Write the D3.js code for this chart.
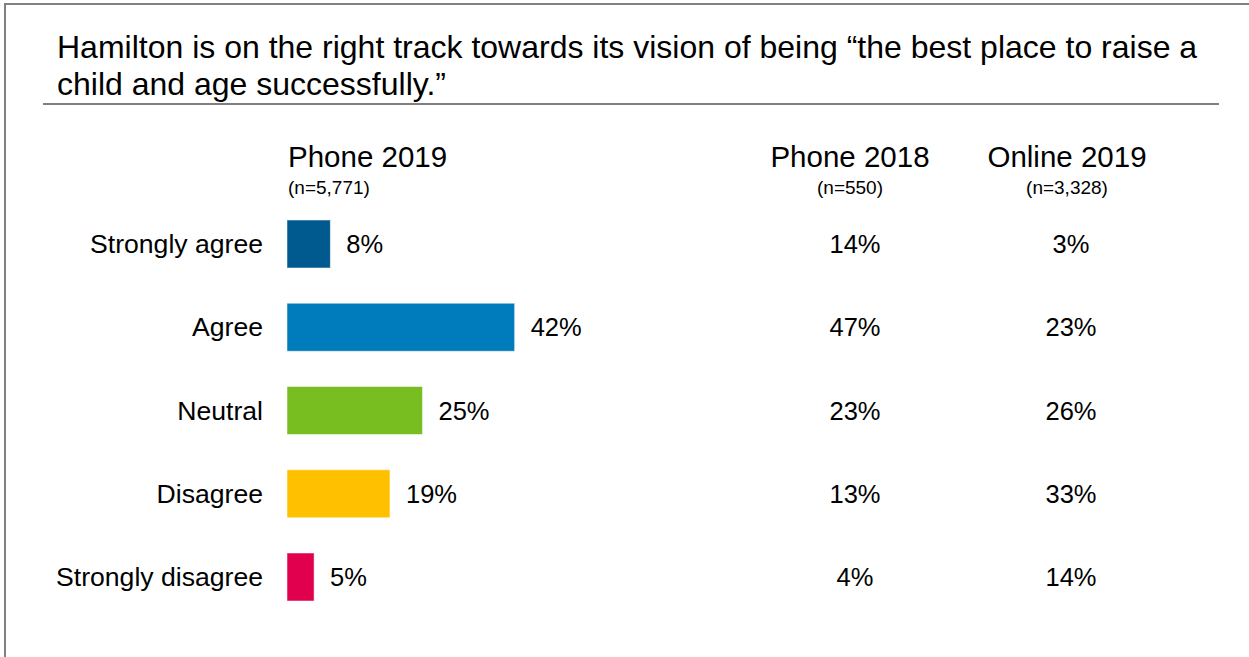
<!DOCTYPE html>
<html>
<head>
<meta charset="utf-8">
<script src="https://cdn.jsdelivr.net/npm/d3@7"></script>
<style>
  body { margin: 0; background: #fff; }
  text { font-family: "Liberation Sans", Arial, sans-serif; fill: #000; }
</style>
</head>
<body>
<script>
// data
var categories = ["Strongly agree", "Agree", "Neutral", "Disagree", "Strongly disagree"];
var phone2019 = [8, 42, 25, 19, 5];
var phone2018 = [14, 47, 23, 13, 4];
var online2019 = [3, 23, 26, 33, 14];
var columnTitles = ["Phone 2019", "Phone 2018", "Online 2019"];
var columnSizes = ["(n=5,771)", "(n=550)", "(n=3,328)"];
var titleLines = [
    "Hamilton is on the right track towards its vision of being \u201cthe best place to raise a",
    "child and age successfully.\u201d"
];

var colors = ["#00598f", "#007bbb", "#78be20", "#ffc000", "#e0004d"];

var width = 1249;
var height = 657;

var svg = d3.select("body").append("svg")
    .attr("width", width)
    .attr("height", height);

// frame (only top and left edges visible)
svg.append("line")
    .attr("x1", 4).attr("x2", width)
    .attr("y1", 4).attr("y2", 4)
    .style("stroke", "#808080")
    .style("stroke-width", 2);
svg.append("line")
    .attr("x1", 5).attr("x2", 5)
    .attr("y1", 3).attr("y2", height)
    .style("stroke", "#808080")
    .style("stroke-width", 2);

// title
svg.selectAll(".title").data(titleLines).enter()
    .append("text")
    .attr("class", "title")
    .attr("x", 57)
    .attr("y", function(d, i) { return 58 + i * 37; })
    .style("font-size", "32px")
    .text(function(d) { return d; });

svg.append("line")
    .attr("x1", 43).attr("x2", 1219)
    .attr("y1", 104).attr("y2", 104)
    .style("stroke", "#808080")
    .style("stroke-width", 2);

// scales
var xScale = d3.scaleLinear()
    .domain([0, 100])
    .range([287, 287 + 542]);

var yScale = d3.scalePoint()
    .domain(categories)
    .range([244, 577]);

var barHeight = 48;

// column headers
var headerX = [288, 850, 1067];
var headerAnchor = ["start", "middle", "middle"];

svg.selectAll(".colTitle").data(columnTitles).enter()
    .append("text")
    .attr("class", "colTitle")
    .attr("x", function(d, i) { return headerX[i]; })
    .attr("y", 167)
    .attr("text-anchor", function(d, i) { return headerAnchor[i]; })
    .style("font-size", "29.5px")
    .text(function(d) { return d; });

svg.selectAll(".colSize").data(columnSizes).enter()
    .append("text")
    .attr("class", "colSize")
    .attr("x", function(d, i) { return headerX[i]; })
    .attr("y", 194)
    .attr("text-anchor", function(d, i) { return headerAnchor[i]; })
    .style("font-size", "19px")
    .text(function(d) { return d; });

// category labels
svg.selectAll(".cat").data(categories).enter()
    .append("text")
    .attr("class", "cat")
    .attr("x", 263)
    .attr("y", function(d) { return yScale(d) + 9; })
    .attr("text-anchor", "end")
    .style("font-size", "26.6px")
    .text(function(d) { return d; });

// bars for Phone 2019
svg.selectAll(".bar").data(phone2019).enter()
    .append("rect")
    .attr("class", "bar")
    .attr("x", xScale(0))
    .attr("y", function(d, i) { return yScale(categories[i]) - barHeight / 2; })
    .attr("width", function(d) { return xScale(d) - xScale(0); })
    .attr("height", barHeight)
    .style("fill", function(d, i) { return colors[i]; })
    .style("stroke", "#ffffff")
    .style("stroke-opacity", 0.5)
    .style("stroke-width", 1);

svg.selectAll(".barLabel").data(phone2019).enter()
    .append("text")
    .attr("class", "barLabel")
    .attr("x", function(d) { return xScale(d) + 16; })
    .attr("y", function(d, i) { return yScale(categories[i]) + 9; })
    .style("font-size", "25.5px")
    .text(function(d) { return d + "%"; });

// other columns as plain numbers
svg.selectAll(".p2018").data(phone2018).enter()
    .append("text")
    .attr("class", "p2018")
    .attr("x", 855)
    .attr("y", function(d, i) { return yScale(categories[i]) + 9; })
    .attr("text-anchor", "middle")
    .style("font-size", "25.5px")
    .text(function(d) { return d + "%"; });

svg.selectAll(".o2019").data(online2019).enter()
    .append("text")
    .attr("class", "o2019")
    .attr("x", 1071)
    .attr("y", function(d, i) { return yScale(categories[i]) + 9; })
    .attr("text-anchor", "middle")
    .style("font-size", "25.5px")
    .text(function(d) { return d + "%"; });
</script>
</body>
</html>
